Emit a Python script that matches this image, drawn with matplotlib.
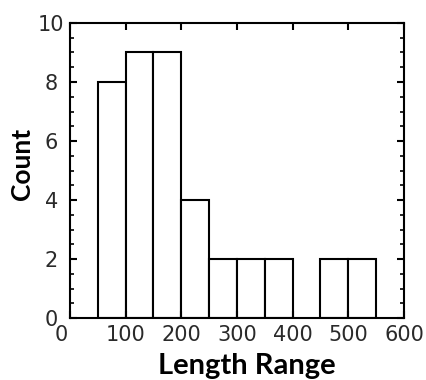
import matplotlib
matplotlib.use("Agg")
import matplotlib.pyplot as plt
from matplotlib.ticker import MultipleLocator
from matplotlib.transforms import ScaledTranslation

bin_edges = [50, 100, 150, 200, 250, 300, 350, 400, 450, 500, 550]
counts = [8, 9, 9, 4, 2, 2, 2, 0, 2, 2]
x_ticks = [0, 100, 200, 300, 400, 500, 600]
y_ticks = [0, 2, 4, 6, 8, 10]

fig = plt.figure(figsize=(4.26, 3.80), dpi=100)
ax = fig.add_axes([0.1643, 0.163, 0.784, 0.7765])

lefts = bin_edges[:-1]
widths = [b - a for a, b in zip(bin_edges[:-1], bin_edges[1:])]
for l, w, c in zip(lefts, widths, counts):
    if c > 0:
        ax.bar(l, c, width=w, align='edge', facecolor='white', edgecolor='black', linewidth=1.5)

ax.set_xlim(0, 600)
ax.set_ylim(0, 10)
ax.set_xticks(x_ticks)
ax.set_yticks(y_ticks)
ax.yaxis.set_minor_locator(MultipleLocator(0.5))

for s in ax.spines.values():
    s.set_linewidth(1.5)

ax.tick_params(axis='both', which='major', direction='in', length=5, width=1.5,
               top=True, right=True, labelsize=15, labelcolor='#2a2a2a')
ax.tick_params(axis='y', which='minor', direction='in', length=3, width=1.2,
               left=True, right=True)
ax.tick_params(axis='x', which='major', pad=5)
ax.tick_params(axis='y', which='major', pad=13.5)

for t in ax.get_xticklabels():
    t.set_family('DejaVu Sans')
for t in ax.get_yticklabels():
    t.set_family('DejaVu Sans')
    t.set_horizontalalignment('center')

# shift x-axis "0" label slightly left as in reference
xl0 = ax.get_xticklabels()[0]
xl0.set_transform(xl0.get_transform() + ScaledTranslation(-9 / 100, 0, fig.dpi_scale_trans))

ax.set_xlabel('Length Range', fontsize=21, fontweight='bold', family='Lato', labelpad=6)
ax.xaxis.label.set_x(0.53)
ax.set_ylabel('Count', fontsize=19, fontweight='bold', family='Lato', labelpad=3)
ax.yaxis.label.set_y(0.522)

fig.savefig('out.png', dpi=100)
